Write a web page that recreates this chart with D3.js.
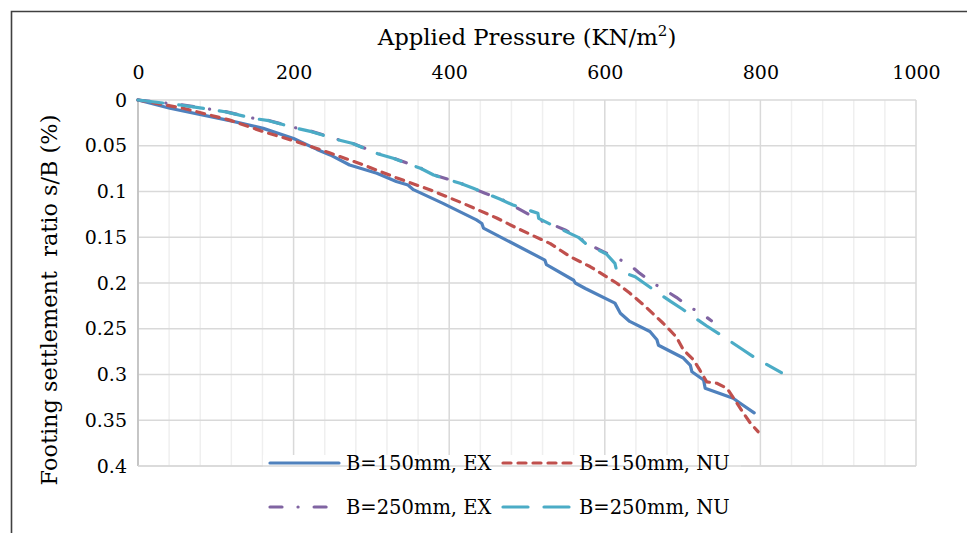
<!DOCTYPE html>
<html>
<head>
<meta charset="utf-8">
<script src="https://cdn.jsdelivr.net/npm/d3@7"></script>
<style>
  html, body { margin: 0; padding: 0; background: #fff; }
  svg { display: block; }
  text { font-family: "DejaVu Serif", serif; fill: #000; }
</style>
</head>
<body>
<svg id="chart" width="967" height="533"></svg>
<script>
// Applied pressure (kN/m²) vs footing settlement ratio s/B (%)
const seriesNames = ["B=150mm, EX", "B=150mm, NU", "B=250mm, EX", "B=250mm, NU"];

const b150exP = [0, 41, 118, 161, 200, 230, 247, 272, 307, 332, 347, 354, 392, 435, 442, 444, 523, 525, 560, 562, 575, 613, 620, 632, 658, 667, 669, 701, 710, 712, 727, 729, 765, 774, 792];
const b150exS = [0, 0.009, 0.0226, 0.031, 0.042, 0.054, 0.060, 0.071, 0.080, 0.089, 0.093, 0.098, 0.113, 0.131, 0.135, 0.140, 0.175, 0.180, 0.197, 0.200, 0.206, 0.222, 0.233, 0.242, 0.253, 0.262, 0.268, 0.282, 0.290, 0.297, 0.306, 0.315, 0.326, 0.3315, 0.342];

const b150nuP = [0, 58, 118, 161, 204, 247, 290, 332, 375, 418, 461, 487, 530, 555, 581, 615, 632, 650, 675, 692, 701, 714, 722, 731, 744, 757, 770, 778, 787, 797];
const b150nuS = [0, 0.009, 0.022, 0.0346, 0.0456, 0.058, 0.071, 0.085, 0.098, 0.113, 0.129, 0.140, 0.157, 0.171, 0.182, 0.200, 0.211, 0.224, 0.244, 0.259, 0.273, 0.284, 0.295, 0.308, 0.3096, 0.315, 0.3315, 0.342, 0.353, 0.3625];

const b250exP = [0, 54, 92, 112, 148, 168, 204, 223, 258, 275, 309, 328, 363, 380, 414, 446, 465, 515, 534, 549, 566, 581, 598, 614, 632, 644, 659, 677, 692, 707, 725, 737];
const b250exS = [0, 0.005, 0.0100, 0.0126, 0.0198, 0.0224, 0.0307, 0.0343, 0.0434, 0.0470, 0.0587, 0.0634, 0.0743, 0.0817, 0.0907, 0.1020, 0.1074, 0.1311, 0.1366, 0.1421, 0.1501, 0.1585, 0.1658, 0.1719, 0.1803, 0.1887, 0.1986, 0.2077, 0.2156, 0.2251, 0.2339, 0.2412];

const b250nuP = [0, 54, 92, 112, 148, 168, 204, 223, 258, 275, 309, 328, 363, 380, 414, 431, 465, 482, 514, 515, 532, 566, 575, 602, 613, 615, 639, 654, 685, 700, 731, 747, 778, 794, 827];
const b250nuS = [0, 0.0055, 0.0102, 0.0128, 0.0200, 0.0226, 0.0309, 0.0346, 0.0437, 0.0473, 0.0590, 0.0637, 0.0746, 0.0820, 0.0910, 0.0965, 0.1082, 0.1148, 0.1238, 0.1293, 0.1366, 0.1501, 0.1566, 0.1683, 0.1785, 0.1858, 0.1931, 0.2022, 0.2204, 0.2287, 0.2470, 0.2557, 0.2732, 0.2823, 0.2980];

const xTicks = [0, 200, 400, 600, 800, 1000];
const xMinorStep = 40;
const yTicks = [0, 0.05, 0.1, 0.15, 0.2, 0.25, 0.3, 0.35, 0.4];
const yTickLabels = ["0", "0.05", "0.1", "0.15", "0.2", "0.25", "0.3", "0.35", "0.4"];

const svg = d3.select("#chart");
const plotL = 138, plotR = 916, plotT = 100, plotB = 466;

const x = d3.scaleLinear().domain([0, 1000]).range([plotL, plotR]);
const y = d3.scaleLinear().domain([0, 0.4]).range([plotT, plotB]);

// outer frame (continues past the right and bottom edges)
svg.append("path")
  .attr("d", "M11.5,540V11.5H975")
  .attr("fill", "none").attr("stroke", "#404040").attr("stroke-width", 1.6);

// minor vertical gridlines
const minorX = d3.range(0, 1000 + 1, xMinorStep).filter(v => !xTicks.includes(v));
svg.append("g").selectAll("line").data(minorX).join("line")
  .attr("x1", d => x(d)).attr("x2", d => x(d))
  .attr("y1", plotT).attr("y2", plotB)
  .attr("stroke", "#efefef").attr("stroke-width", 1.5);

// major gridlines
svg.append("g").selectAll("line").data(xTicks).join("line")
  .attr("x1", d => x(d)).attr("x2", d => x(d))
  .attr("y1", plotT).attr("y2", plotB)
  .attr("stroke", "#d9d9d9").attr("stroke-width", 1.5);
svg.append("g").selectAll("line").data(yTicks).join("line")
  .attr("x1", plotL).attr("x2", plotR)
  .attr("y1", d => y(d)).attr("y2", d => y(d))
  .attr("stroke", "#d9d9d9").attr("stroke-width", 1.5);

// left axis line
svg.append("line").attr("x1", plotL).attr("x2", plotL).attr("y1", plotT).attr("y2", plotB)
  .attr("stroke", "#bfbfbf").attr("stroke-width", 1.6);

// axes
const xAxis = svg.append("g").attr("transform", `translate(0,${plotT})`)
  .call(d3.axisTop(x).tickValues(xTicks).tickSize(0).tickPadding(21).tickFormat(d3.format("d")));
xAxis.select(".domain").remove();
xAxis.selectAll("text").style("font-family", "DejaVu Serif").style("font-size", "19px").attr("fill", "#000");

const yAxis = svg.append("g").attr("transform", `translate(${plotL},0)`)
  .call(d3.axisLeft(y).tickValues(yTicks).tickSize(0).tickPadding(11)
    .tickFormat((d, i) => yTickLabels[i]));
yAxis.select(".domain").remove();
yAxis.selectAll("text").style("font-family", "DejaVu Serif").style("font-size", "19px").attr("fill", "#000");

// axis titles
const xt = svg.append("text").attr("x", (plotL + plotR) / 2).attr("y", 45)
  .attr("text-anchor", "middle").style("font-size", "22.8px");
xt.append("tspan").text("Applied Pressure (KN/m");
xt.append("tspan").attr("dy", -9).style("font-size", "15px").text("2");
xt.append("tspan").attr("dy", 9).text(")");

svg.append("text")
  .attr("transform", "translate(57,300) rotate(-90)")
  .attr("text-anchor", "middle").style("font-size", "22.4px")
  .style("white-space", "pre")
  .text("Footing settlement  ratio s/B (%)");

// series
const styles = [
  { color: "#4f81bd", dash: null },
  { color: "#c0504d", dash: "8,7" },
  { color: "#8064a2", dash: "12,16,0.1,16" },
  { color: "#4bacc6", dash: "25,16" }
];
const seriesData = [
  d3.zip(b150exP, b150exS),
  d3.zip(b150nuP, b150nuS),
  d3.zip(b250exP, b250exS),
  d3.zip(b250nuP, b250nuS)
];
const line = d3.line().x(d => x(d[0])).y(d => y(d[1])).curve(d3.curveLinear);

seriesData.forEach((pts, i) => {
  svg.append("path")
    .datum(pts)
    .attr("d", line)
    .attr("fill", "none")
    .attr("stroke", styles[i].color)
    .attr("stroke-width", 3.2)
    .attr("stroke-linecap", "round")
    .attr("stroke-linejoin", "round")
    .attr("stroke-dasharray", styles[i].dash);
});

// legend
svg.append("rect").attr("x", 263).attr("y", 455).attr("width", 478).attr("height", 70).attr("fill", "#fff");
svg.append("line").attr("x1", plotL).attr("x2", plotR).attr("y1", plotB).attr("y2", plotB)
  .attr("stroke", "#d9d9d9").attr("stroke-width", 1.6);

const legendPos = [[270, 463], [503, 463], [270, 507], [503, 507]];
seriesNames.forEach((name, i) => {
  const [lx, ly] = legendPos[i];
  svg.append("line")
    .attr("x1", lx).attr("x2", lx + 69).attr("y1", ly).attr("y2", ly)
    .attr("stroke", styles[i].color).attr("stroke-width", 3.2)
    .attr("stroke-linecap", "round")
    .attr("stroke-dasharray", styles[i].dash);
  svg.append("text").attr("x", lx + 76).attr("y", ly + 7)
    .style("font-size", "19.5px").text(name);
});
</script>
</body>
</html>
